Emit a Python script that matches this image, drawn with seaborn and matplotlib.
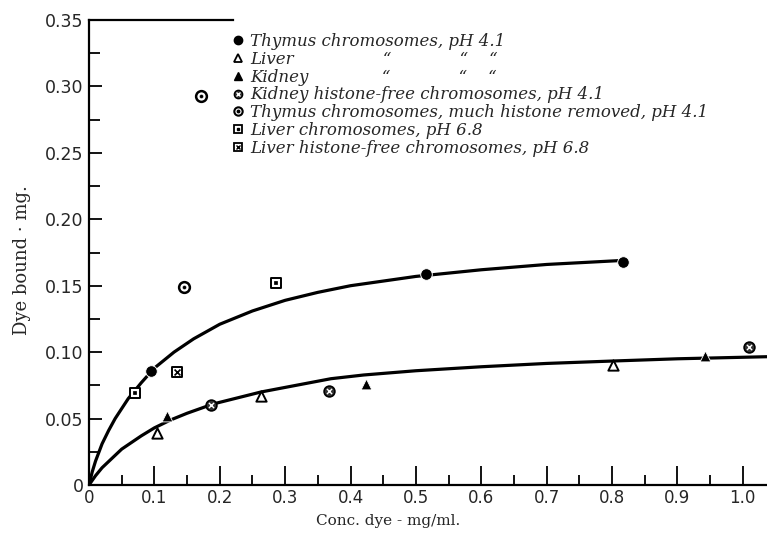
import numpy as np
import pandas as pd
import matplotlib.pyplot as plt
import seaborn as sns
from matplotlib.lines import Line2D
from matplotlib.ticker import MultipleLocator

# points (conc. dye mg/ml, dye bound mg)
thymus_x = [0.095, 0.516, 0.816]
thymus_y = [0.086, 0.159, 0.168]
liver_x = [0.104, 0.263, 0.801]
liver_y = [0.039, 0.067, 0.090]
kidney_x = [0.120, 0.423, 0.942]
kidney_y = [0.052, 0.076, 0.097]
kidney_free_x = [0.187, 0.367, 1.009]
kidney_free_y = [0.060, 0.071, 0.104]
thymus_removed_x = [0.145, 0.171]
thymus_removed_y = [0.149, 0.293]
liver68_x = [0.070, 0.286]
liver68_y = [0.069, 0.152]
liver68_free_x = [0.135]
liver68_free_y = [0.085]

# hand drawn curves
upper_x = [0, 0.005, 0.01, 0.02, 0.03, 0.04, 0.06, 0.08, 0.10, 0.13, 0.16, 0.20, 0.25,
           0.30, 0.35, 0.40, 0.50, 0.60, 0.70, 0.815]
upper_y = [0, 0.010, 0.018, 0.031, 0.041, 0.050, 0.065, 0.077, 0.088, 0.100, 0.110,
           0.121, 0.131, 0.139, 0.145, 0.150, 0.157, 0.162, 0.166, 0.169]
lower_x = [0, 0.01, 0.02, 0.035, 0.05, 0.065, 0.08, 0.10, 0.125, 0.15, 0.19, 0.263,
           0.37, 0.42, 0.50, 0.60, 0.70, 0.80, 0.90, 1.04]
lower_y = [0, 0.007, 0.013, 0.020, 0.027, 0.032, 0.037, 0.043, 0.049, 0.054, 0.061,
           0.070, 0.080, 0.0828, 0.086, 0.089, 0.0915, 0.0933, 0.095, 0.0966]

labels = [
    "Thymus chromosomes, pH 4.1",
    "Liver                 \u201c             \u201c    \u201c",
    "Kidney              \u201c             \u201c    \u201c",
    "Kidney histone-free chromosomes, pH 4.1",
    "Thymus chromosomes, much histone removed, pH 4.1",
    "Liver chromosomes, pH 6.8",
    "Liver histone-free chromosomes, pH 6.8",
]

sns.set_style("white")
plt.rcParams["font.family"] = ["DejaVu Sans"]

fig = plt.figure(figsize=(7.67, 5.33), dpi=100)
ax = fig.add_axes([89 / 767, 48 / 533, 678 / 767, 465 / 533])

sns.lineplot(x=upper_x, y=upper_y, sort=False, estimator=None, color="black", lw=2.3, ax=ax)
sns.lineplot(x=lower_x, y=lower_y, sort=False, estimator=None, color="black", lw=2.3, ax=ax)

ms = 70
sns.scatterplot(x=thymus_x, y=thymus_y, marker="o", s=ms, color="black", ax=ax, zorder=5)
sns.scatterplot(x=liver_x, y=liver_y, marker="^", s=55, color="white", edgecolor="black",
                linewidth=1.4, ax=ax, zorder=5)
sns.scatterplot(x=kidney_x, y=kidney_y, marker="^", s=60, color="black", ax=ax, zorder=5)
sns.scatterplot(x=kidney_free_x, y=kidney_free_y, marker="o", s=60, color="#333333",
                edgecolor="black", linewidth=1.2, ax=ax, zorder=5)
sns.scatterplot(x=kidney_free_x, y=kidney_free_y, marker="x", s=14, color="white",
                linewidth=1.0, ax=ax, zorder=6)
sns.scatterplot(x=thymus_removed_x, y=thymus_removed_y, marker="o", s=60, color="white",
                edgecolor="black", linewidth=1.8, ax=ax, zorder=5)
sns.scatterplot(x=thymus_removed_x, y=thymus_removed_y, marker="o", s=8, color="black",
                ax=ax, zorder=6)
sns.scatterplot(x=liver68_x, y=liver68_y, marker="s", s=60, color="white",
                edgecolor="black", linewidth=1.4, ax=ax, zorder=5)
sns.scatterplot(x=liver68_x, y=liver68_y, marker="s", s=6, color="black", ax=ax, zorder=6)
sns.scatterplot(x=liver68_free_x, y=liver68_free_y, marker="s", s=60, color="white",
                edgecolor="black", linewidth=1.4, ax=ax, zorder=5)
sns.scatterplot(x=liver68_free_x, y=liver68_free_y, marker="x", s=18, color="black",
                linewidth=1.2, ax=ax, zorder=6)

ax.set_xlim(0, 1.037)
ax.set_ylim(0, 0.35)
ax.xaxis.set_minor_locator(MultipleLocator(0.05))
ax.yaxis.set_minor_locator(MultipleLocator(0.025))
ax.set_xticks(np.arange(0, 1.01, 0.1))
ax.set_xticklabels(["0"] + ["%.1f" % v for v in np.arange(0.1, 1.01, 0.1)])
ax.set_yticks(np.arange(0, 0.351, 0.05))
ax.set_yticklabels(["0"] + ["%.2f" % v for v in np.arange(0.05, 0.351, 0.05)])
ax.tick_params(which="both", bottom=True, left=True, top=False, right=False,
               direction="in", color="black", width=1.3)
ax.tick_params(axis="x", which="major", length=14, labelsize=12, pad=3)
ax.tick_params(axis="x", which="minor", length=7)
ax.tick_params(axis="y", which="major", length=9, labelsize=12.5, pad=4)
ax.tick_params(axis="y", which="minor", length=8)

for side in ["left", "bottom", "top"]:
    ax.spines[side].set_color("black")
    ax.spines[side].set_linewidth(1.6)
ax.spines["right"].set_visible(False)
ax.spines["top"].set_bounds(0, 0.22)

ax.set_xlabel("Conc. dye - mg/ml.", fontsize=11, family="DejaVu Serif")
ax.xaxis.set_label_coords(299 / 678, -0.062)
ax.set_ylabel("Dye bound \u00b7 mg.", fontsize=13, family="DejaVu Serif")
ax.yaxis.set_label_coords(-0.085, 0.484)

handles = [
    Line2D([], [], ls="", marker="o", ms=6, color="black"),
    Line2D([], [], ls="", marker="^", ms=6, mfc="white", mec="black", mew=1.3),
    Line2D([], [], ls="", marker="^", ms=6, color="black"),
    (Line2D([], [], ls="", marker="o", ms=6, mfc="#333333", mec="black"),
     Line2D([], [], ls="", marker="x", ms=2.5, color="white")),
    (Line2D([], [], ls="", marker="o", ms=6, mfc="white", mec="black", mew=1.5),
     Line2D([], [], ls="", marker="o", ms=1.8, color="black")),
    (Line2D([], [], ls="", marker="s", ms=6, mfc="white", mec="black", mew=1.3),
     Line2D([], [], ls="", marker="s", ms=1.6, color="black")),
    (Line2D([], [], ls="", marker="s", ms=6, mfc="white", mec="black", mew=1.3),
     Line2D([], [], ls="", marker="x", ms=3, color="black")),
]
ax.legend(handles, labels, loc="upper left", bbox_to_anchor=(0.195, 0.99),
          frameon=False, borderpad=0, handlelength=1.0, handletextpad=0.25,
          labelspacing=0.05, prop={"family": "DejaVu Serif", "style": "italic", "size": 12})

fig.savefig("out.png", dpi=100)
